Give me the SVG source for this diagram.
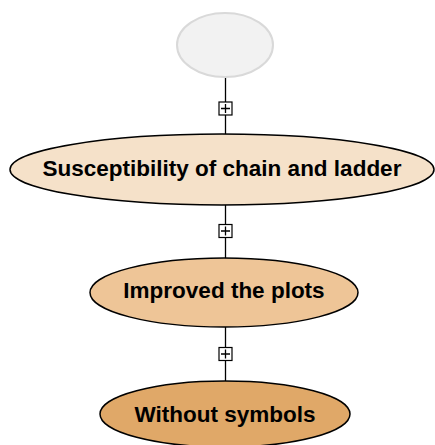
<svg xmlns="http://www.w3.org/2000/svg" width="435" height="445" viewBox="0 0 435 445">
<style>
.n{stroke:#000;stroke-width:1.5}
.t{font-family:"Liberation Sans",Arial,sans-serif;font-weight:bold;font-size:22.5px;text-anchor:middle;fill:#000}
.c{stroke:#000;stroke-width:1.3;fill:none}
.b{fill:#fff;stroke:#000;stroke-width:1.2}
</style>
<g id="connectors">
<line class="c" x1="225.5" y1="77" x2="225.5" y2="134"/>
<rect class="b" x="219" y="102" width="13" height="13"/>
<path class="c" d="M221 108.5h9M225.5 104v9"/>
<line class="c" x1="225.5" y1="205" x2="225.5" y2="258"/>
<rect class="b" x="219" y="224.5" width="13" height="13"/>
<path class="c" d="M221 231h9M225.5 226.5v9"/>
<line class="c" x1="225.5" y1="327" x2="225.5" y2="381"/>
<rect class="b" x="219" y="347.5" width="13" height="13"/>
<path class="c" d="M221 354h9M225.5 349.5v9"/>
</g>
<g id="root"><ellipse cx="225" cy="45" rx="48" ry="32" fill="#f2f2f2" stroke="#d9d9d9" stroke-width="2"/></g>
<g id="n1"><ellipse class="n" cx="222" cy="169.5" rx="212" ry="35.5" fill="#f5e1c9"/><text class="t" x="222" y="176">Susceptibility of chain and ladder</text></g>
<g id="n2"><ellipse class="n" cx="224" cy="292.5" rx="134" ry="34.5" fill="#eec597"/><text class="t" x="224" y="298">Improved the plots</text></g>
<g id="n3"><ellipse class="n" cx="225" cy="414" rx="125" ry="33" fill="#e0a868"/><text class="t" x="225" y="422">Without symbols</text></g>
</svg>
